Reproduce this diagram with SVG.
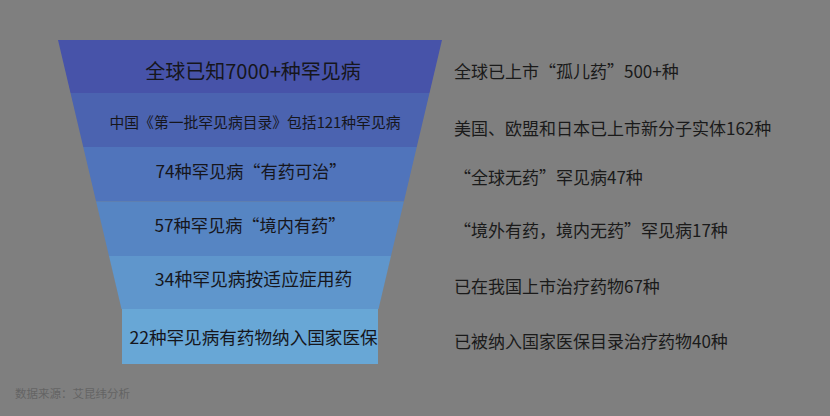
<svg xmlns="http://www.w3.org/2000/svg" width="830" height="416" viewBox="0 0 830 416">
<style>
.t{font-family:"Noto Sans CJK SC","Noto Sans",sans-serif;fill:#16161c;}
.c{text-anchor:middle;}
.r{font-size:17px;fill:#1a1a1a;}
.src{font-family:"Noto Sans CJK SC","Noto Sans",sans-serif;font-size:11.5px;fill:#646464;}
</style>
<rect width="830" height="416" fill="#7f7f7f"/>
<g id="layer1"><polygon points="58,40 442,40 429.5,93 70.5,93" fill="#4753a9"/><text class="t c" x="253" y="79" font-size="20">全球已知7000+种罕见病</text></g>
<g id="layer2"><polygon points="70.5,93 429.5,93 416.75,147 83.25,147" fill="#4b63b0"/><text class="t c" x="255" y="128" font-size="14.8">中国《第一批罕见病目录》包括121种罕见病</text></g>
<g id="layer3"><polygon points="83.25,147 416.75,147 403.9,201.5 96.1,201.5" fill="#5074bb"/><text class="t c" x="251" y="178" font-size="17.2">74种罕见病“有药可治”</text></g>
<g id="layer4"><polygon points="96.1,201.5 403.9,201.5 391,256 109,256" fill="#5685c3"/><text class="t c" x="250" y="232" font-size="17.2">57种罕见病“境内有药”</text></g>
<g id="layer5"><polygon points="109,256 391,256 378.5,309 121.5,309" fill="#5f96cc"/><text class="t c" x="253.5" y="286" font-size="17.8">34种罕见病按适应症用药</text></g>
<g id="layer6"><rect x="122" y="309" width="256" height="55" fill="#68a7d6"/><text class="t c" x="253.5" y="344" font-size="17.6">22种罕见病有药物纳入国家医保</text></g>
<g id="connectors"></g>
<g id="labels">
<text class="t r" x="454" y="78">全球已上市“孤儿药”500+种</text>
<text class="t r" x="454" y="135">美国、欧盟和日本已上市新分子实体162种</text>
<text class="t r" x="454" y="184">“全球无药”罕见病47种</text>
<text class="t r" x="454" y="237">“境外有药，境内无药”罕见病17种</text>
<text class="t r" x="454" y="293">已在我国上市治疗药物67种</text>
<text class="t r" x="454" y="348">已被纳入国家医保目录治疗药物40种</text>
</g>
<text class="src" x="15" y="398">数据来源：艾昆纬分析</text>
</svg>
